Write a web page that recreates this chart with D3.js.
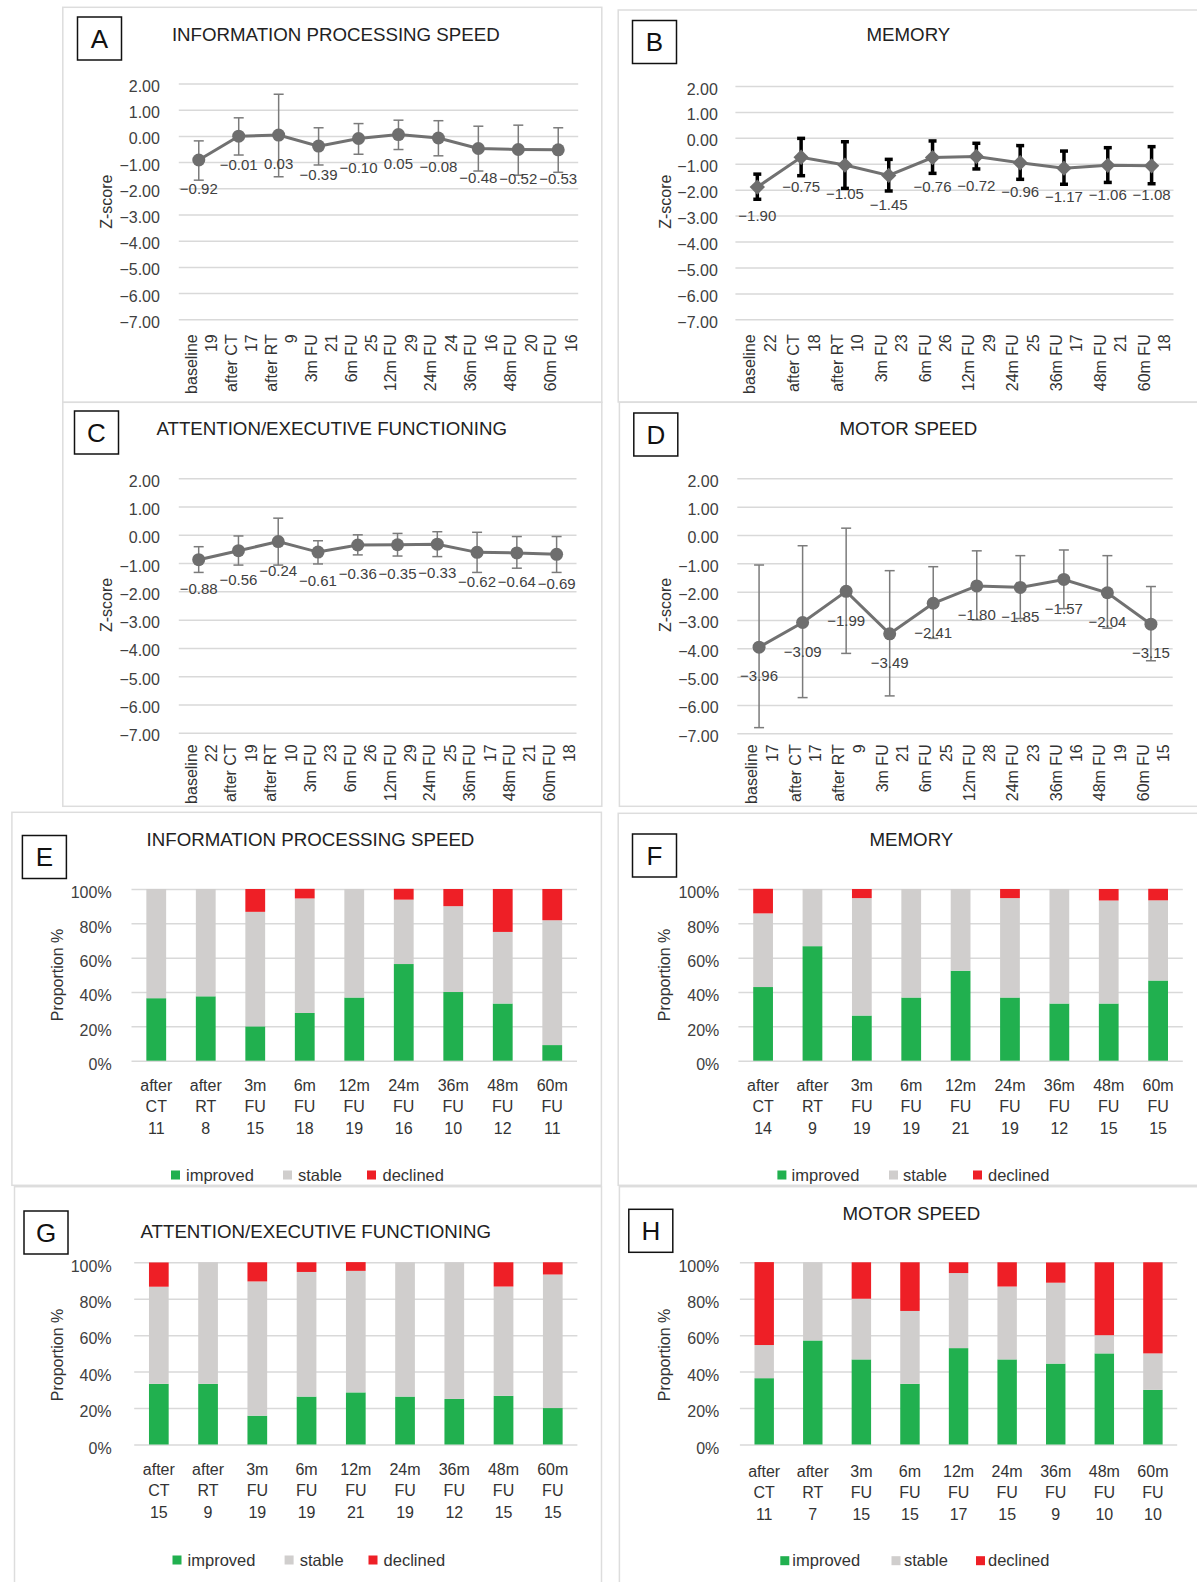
<!DOCTYPE html>
<html>
<head>
<meta charset="utf-8">
<script src="https://cdn.jsdelivr.net/npm/d3@7"></script>
<style>
  body { margin: 0; background: #fff; }
  svg { font-family: "Liberation Sans", Arial, sans-serif; display: block; }
  .grid line { stroke: #d9d9d9; stroke-width: 1.5; }
  .grid text { fill: #404040; font-size: 16px; }
</style>
</head>
<body>
<svg id="figure" width="1197" height="1582"></svg>
<script>
// Time points (line charts)
const LINE_CATEGORIES = ["baseline", "after CT", "after RT", "3m FU", "6m FU", "12m FU", "24m FU", "36m FU", "48m FU", "60m FU"];
const Z_TICKS = [2, 1, 0, -1, -2, -3, -4, -5, -6, -7];

// A: information processing speed
const speedN = [19, 17, 9, 21, 25, 29, 24, 16, 20, 16];
const speedMean = [-0.92, -0.01, 0.03, -0.39, -0.10, 0.05, -0.08, -0.48, -0.52, -0.53];
const speedLow = [-1.69, -0.73, -1.56, -1.11, -0.70, -0.52, -0.76, -1.34, -1.50, -1.39];
const speedHigh = [-0.19, 0.69, 1.59, 0.31, 0.47, 0.60, 0.58, 0.37, 0.41, 0.31];

// B: memory
const memoryN = [22, 18, 10, 23, 26, 29, 25, 17, 21, 18];
const memoryMean = [-1.90, -0.75, -1.05, -1.45, -0.76, -0.72, -0.96, -1.17, -1.06, -1.08];
const memoryLow = [-2.37, -1.46, -1.95, -2.05, -1.37, -1.20, -1.60, -1.79, -1.72, -1.77];
const memoryHigh = [-1.40, -0.02, -0.15, -0.83, -0.12, -0.21, -0.30, -0.51, -0.38, -0.34];

// C: attention / executive functioning
const attentionN = [22, 19, 10, 23, 26, 29, 25, 17, 21, 18];
const attentionMean = [-0.88, -0.56, -0.24, -0.61, -0.36, -0.35, -0.33, -0.62, -0.64, -0.69];
const attentionLow = [-1.33, -1.07, -1.07, -1.03, -0.71, -0.75, -0.77, -1.33, -1.18, -1.33];
const attentionHigh = [-0.42, -0.04, 0.59, -0.21, 0.00, 0.05, 0.11, 0.09, -0.06, -0.06];

// D: motor speed
const motorN = [17, 17, 9, 21, 25, 28, 23, 16, 19, 15];
const motorMean = [-3.96, -3.09, -1.99, -3.49, -2.41, -1.80, -1.85, -1.57, -2.04, -3.15];
const motorLow = [-6.80, -5.74, -4.18, -5.68, -3.65, -3.00, -2.95, -2.60, -3.29, -4.44];
const motorHigh = [-1.06, -0.38, 0.24, -1.26, -1.12, -0.56, -0.73, -0.53, -0.73, -1.82];

// Time points (bar charts)
const BAR_CATEGORIES = ["after CT", "after RT", "3m FU", "6m FU", "12m FU", "24m FU", "36m FU", "48m FU", "60m FU"];
const PCT_TICKS = [0, 20, 40, 60, 80, 100];
const STATUS_KEYS = ["improved", "stable", "declined"];

// E: information processing speed (%)
const speedBarN = [11, 8, 15, 18, 19, 16, 10, 12, 11];
const speedImproved = [36.4, 37.5, 20.0, 27.8, 36.8, 56.3, 40.0, 33.3, 9.1];
const speedStable = [63.6, 62.5, 66.7, 66.7, 63.2, 37.5, 50.0, 41.7, 72.7];
const speedDeclined = [0, 0, 13.3, 5.6, 0, 6.3, 10.0, 25.0, 18.2];

// F: memory (%)
const memoryBarN = [14, 9, 19, 19, 21, 19, 12, 15, 15];
const memoryImproved = [42.9, 66.7, 26.3, 36.8, 52.4, 36.8, 33.3, 33.3, 46.7];
const memoryStable = [42.9, 33.3, 68.4, 63.2, 47.6, 57.9, 66.7, 60.0, 46.7];
const memoryDeclined = [14.3, 0, 5.3, 0, 0, 5.3, 0, 6.7, 6.7];

// G: attention / executive functioning (%)
const attentionBarN = [15, 9, 19, 19, 21, 19, 12, 15, 15];
const attentionImproved = [33.3, 33.3, 15.8, 26.3, 28.6, 26.3, 25.0, 26.7, 20.0];
const attentionStable = [53.3, 66.7, 73.7, 68.4, 66.7, 73.7, 75.0, 60.0, 73.3];
const attentionDeclined = [13.3, 0, 10.5, 5.3, 4.8, 0, 0, 13.3, 6.7];

// H: motor speed (%)
const motorBarN = [11, 7, 15, 15, 17, 15, 9, 10, 10];
const motorImproved = [36.4, 57.1, 46.7, 33.3, 52.9, 46.7, 44.4, 50.0, 30.0];
const motorStable = [18.2, 42.9, 33.3, 40.0, 41.2, 40.0, 44.4, 10.0, 20.0];
const motorDeclined = [45.5, 0, 20.0, 26.7, 5.9, 13.3, 11.1, 40.0, 50.0];

const STATUS_COLORS = { improved: "#21b04f", stable: "#d0cecd", declined: "#ee1f26" };
const minusFmt = (v, f) => d3.format(f)(v).replace("-", "\u2212");

const svg = d3.select("#figure");

// Panel frame, letter box and title
const drawFrame = (p) => {
  svg.append("rect")
    .attr("x", p.frame[0]).attr("y", p.frame[1])
    .attr("width", p.frame[2]).attr("height", p.frame[3])
    .style("fill", "none").style("stroke", "#dddddd").style("stroke-width", 1.5);
  svg.append("rect")
    .attr("x", p.box[0]).attr("y", p.box[1]).attr("width", 44).attr("height", 43)
    .style("fill", "#fff").style("stroke", "#111").style("stroke-width", 1.5);
  svg.append("text")
    .attr("x", p.box[0] + 22).attr("y", p.box[1] + 30.5)
    .attr("text-anchor", "middle").style("font-size", "26px").style("fill", "#111")
    .text(p.letter);
  svg.append("text")
    .attr("x", p.title[0]).attr("y", p.title[1] + 6.6)
    .attr("text-anchor", p.titleAnchor || "start")
    .style("font-size", "18.7px").style("fill", "#222")
    .text(p.name);
};

const drawLinePanel = (p) => {
  drawFrame(p);

  // Create Scales
  const x = d3.scaleBand().domain(LINE_CATEGORIES).range([p.x0, p.x1]);
  const y = d3.scaleLinear().domain([2, -7]).range([p.yTop, p.yBottom]);
  const cx = (i) => x(LINE_CATEGORIES[i]) + x.bandwidth() / 2;

  // Grid and tick labels
  const g = svg.append("g").attr("class", "grid").attr("transform", `translate(${p.x0},0)`);
  g.call(d3.axisLeft(y).tickValues(Z_TICKS).tickSize(-(p.x1 - p.x0))
      .tickPadding(p.x0 - p.tickRight).tickFormat((d) => minusFmt(d, ".2f")));
  g.select(".domain").remove();
  g.selectAll("text").attr("dy", "0.5em");

  svg.append("text")
    .attr("transform", `translate(${p.yLabel[0]},${p.yLabel[1]}) rotate(-90)`)
    .attr("text-anchor", "middle").attr("dy", "0.35em")
    .style("font-size", "16px").style("fill", "#333")
    .text("Z-score");

  // Category labels, rotated, with n below
  LINE_CATEGORIES.forEach((c, i) => {
    [c, String(p.n[i])].forEach((t, k) => {
      svg.append("text")
        .attr("transform", `translate(${cx(i) - 2 + k * 20.5},${p.labelTop}) rotate(-90)`)
        .attr("text-anchor", "end")
        .style("font-size", "16px").style("fill", "#333")
        .text(t);
    });
  });

  // Error bars
  const eb = svg.append("g")
    .style("stroke", p.errColor).style("stroke-width", p.errWidth);
  p.mean.forEach((m, i) => {
    eb.append("line").attr("x1", cx(i)).attr("x2", cx(i)).attr("y1", y(p.low[i])).attr("y2", y(p.high[i]));
    [p.low[i], p.high[i]].forEach((v) => {
      eb.append("line").attr("x1", cx(i) - p.cap).attr("x2", cx(i) + p.cap).attr("y1", y(v)).attr("y2", y(v));
    });
  });

  // Mean line
  const line = d3.line().x((d, i) => cx(i)).y((d) => y(d));
  svg.append("path").attr("d", line(p.mean))
    .style("fill", "none").style("stroke", "#717171").style("stroke-width", 3);

  // Markers
  p.mean.forEach((m, i) => {
    if (p.diamond) {
      svg.append("path")
        .attr("d", d3.symbol().type(d3.symbolDiamond2).size(150)())
        .attr("transform", `translate(${cx(i)},${y(m)})`)
        .style("fill", "#6e6e6e");
    } else {
      svg.append("circle").attr("cx", cx(i)).attr("cy", y(m)).attr("r", 6.5)
        .style("fill", "#6e6e6e");
    }
  });

  // Data labels
  p.mean.forEach((m, i) => {
    svg.append("text")
      .attr("x", cx(i)).attr("y", y(m) + 29).attr("dy", "0.35em")
      .attr("text-anchor", "middle")
      .style("font-size", "15px").style("fill", "#404040")
      .text(minusFmt(m, ".2f"));
  });
};

const drawBarPanel = (p) => {
  drawFrame(p);

  // Create Scales
  const x = d3.scaleBand().domain(BAR_CATEGORIES).range([p.x0, p.x1]).paddingInner(0.6).paddingOuter(0.3);
  const y = d3.scaleLinear().domain([0, 100]).range([p.yBottom, p.yTop]);

  const g = svg.append("g").attr("class", "grid").attr("transform", `translate(${p.x0},0)`);
  g.call(d3.axisLeft(y).tickValues(PCT_TICKS).tickSize(-(p.x1 - p.x0))
      .tickPadding(p.x0 - p.tickRight).tickFormat((d) => d + "%"));
  g.select(".domain").remove();
  g.selectAll("text").attr("dy", "0.55em");

  svg.append("text")
    .attr("transform", `translate(${p.yLabel[0]},${p.yLabel[1]}) rotate(-90)`)
    .attr("text-anchor", "middle").attr("dy", "0.35em")
    .style("font-size", "16px").style("fill", "#333")
    .text("Proportion %");

  // Stack the three outcome series
  const table = BAR_CATEGORIES.map((c, i) => ({
    cat: c, improved: p.improved[i], stable: p.stable[i], declined: p.declined[i]
  }));
  const series = d3.stack().keys(STATUS_KEYS)(table);

  svg.append("g").selectAll("g").data(series).join("g")
    .style("fill", (d) => STATUS_COLORS[d.key])
    .selectAll("rect").data((d) => d).join("rect")
    .attr("x", (d) => x(d.data.cat))
    .attr("width", x.bandwidth())
    .attr("y", (d) => y(d[1]))
    .attr("height", (d) => y(d[0]) - y(d[1]));

  // Category labels on three lines
  BAR_CATEGORIES.forEach((c, i) => {
    const lines = c.split(" ").concat(String(p.n[i]));
    lines.forEach((t, k) => {
      svg.append("text")
        .attr("x", x(c) + x.bandwidth() / 2).attr("y", p.labelY + k * 21.6).attr("dy", "0.35em")
        .attr("text-anchor", "middle")
        .style("font-size", "16px").style("fill", "#333")
        .text(t);
    });
  });

  // Legend
  STATUS_KEYS.forEach((k, i) => {
    svg.append("rect")
      .attr("x", p.legend[i][0]).attr("y", p.legendY - 4.5).attr("width", 9).attr("height", 9)
      .style("fill", STATUS_COLORS[k]);
    svg.append("text")
      .attr("x", p.legend[i][1]).attr("y", p.legendY).attr("dy", "0.35em")
      .style("font-size", "16.5px").style("fill", "#333")
      .text(k);
  });
};

// Line panels
drawLinePanel({
  letter: "A", name: "INFORMATION PROCESSING SPEED",
  frame: [62.8, 7.3, 539, 395], box: [77.5, 17], title: [171.9, 34.3],
  x0: 178.8, x1: 578.2, yTop: 83.5, yBottom: 319.3, tickRight: 159.9,
  yLabel: [106.5, 201.7], labelTop: 334.3,
  n: speedN, mean: speedMean, low: speedLow, high: speedHigh,
  errColor: "#7b7b7b", errWidth: 1.5, cap: 5
});
drawLinePanel({
  letter: "B", name: "MEMORY", titleAnchor: "middle",
  frame: [618.2, 10, 600, 392], box: [632.5, 20.5], title: [908.4, 34.3],
  x0: 735.4, x1: 1173.5, yTop: 86, yBottom: 319.3, tickRight: 717.8,
  yLabel: [665.4, 201.7], labelTop: 334.3,
  n: memoryN, mean: memoryMean, low: memoryLow, high: memoryHigh,
  errColor: "#000", errWidth: 3.5, cap: 4, diamond: true
});
drawLinePanel({
  letter: "C", name: "ATTENTION/EXECUTIVE FUNCTIONING",
  frame: [62.8, 402.3, 539, 404], box: [74.5, 411], title: [156.4, 428.3],
  x0: 178.8, x1: 576.5, yTop: 478.3, yBottom: 732.7, tickRight: 159.9,
  yLabel: [106.5, 605], labelTop: 744.3,
  n: attentionN, mean: attentionMean, low: attentionLow, high: attentionHigh,
  errColor: "#7b7b7b", errWidth: 1.5, cap: 5
});
drawLinePanel({
  letter: "D", name: "MOTOR SPEED", titleAnchor: "middle",
  frame: [619.4, 402.3, 600, 404], box: [633.8, 413], title: [908.4, 428.3],
  x0: 737.3, x1: 1172.7, yTop: 478.3, yBottom: 733.3, tickRight: 718.6,
  yLabel: [665.4, 605], labelTop: 744.3,
  n: motorN, mean: motorMean, low: motorLow, high: motorHigh,
  errColor: "#7b7b7b", errWidth: 1.5, cap: 5
});

// Bar panels
drawBarPanel({
  letter: "E", name: "INFORMATION PROCESSING SPEED",
  frame: [11.9, 812.3, 589.5, 373], box: [22.4, 835.5], title: [146.6, 839],
  x0: 131.5, x1: 577, yTop: 889, yBottom: 1060.7, tickRight: 111.6,
  yLabel: [57, 975], labelY: 1085, legendY: 1175,
  legend: [[171, 186], [283, 298], [367, 382.5]],
  n: speedBarN, improved: speedImproved, stable: speedStable, declined: speedDeclined
});
drawBarPanel({
  letter: "F", name: "MEMORY", titleAnchor: "middle",
  frame: [618.2, 813.3, 600, 372], box: [632.5, 834], title: [911.4, 839],
  x0: 738.4, x1: 1182.8, yTop: 889, yBottom: 1060.7, tickRight: 719.3,
  yLabel: [664.3, 975], labelY: 1085, legendY: 1175,
  legend: [[777.4, 791.6], [889, 903], [973, 988]],
  n: memoryBarN, improved: memoryImproved, stable: memoryStable, declined: memoryDeclined
});
drawBarPanel({
  letter: "G", name: "ATTENTION/EXECUTIVE FUNCTIONING",
  frame: [14.5, 1186.7, 587, 400], box: [24, 1211], title: [140.5, 1231.7],
  x0: 134.2, x1: 577.4, yTop: 1262.3, yBottom: 1444.5, tickRight: 111.6,
  yLabel: [57, 1355], labelY: 1469, legendY: 1560,
  legend: [[172.5, 187.6], [284.6, 299.7], [368.5, 383.6]],
  n: attentionBarN, improved: attentionImproved, stable: attentionStable, declined: attentionDeclined
});
drawBarPanel({
  letter: "H", name: "MOTOR SPEED", titleAnchor: "middle",
  frame: [619.4, 1186.7, 600, 400], box: [628.8, 1209.3], title: [911.4, 1213.3],
  x0: 739.9, x1: 1177.2, yTop: 1262.3, yBottom: 1444.5, tickRight: 719.3,
  yLabel: [664.3, 1355], labelY: 1471, legendY: 1560.7,
  legend: [[780.3, 792.3], [891.5, 903.9], [976, 988]],
  n: motorBarN, improved: motorImproved, stable: motorStable, declined: motorDeclined
});
</script>
</body>
</html>
